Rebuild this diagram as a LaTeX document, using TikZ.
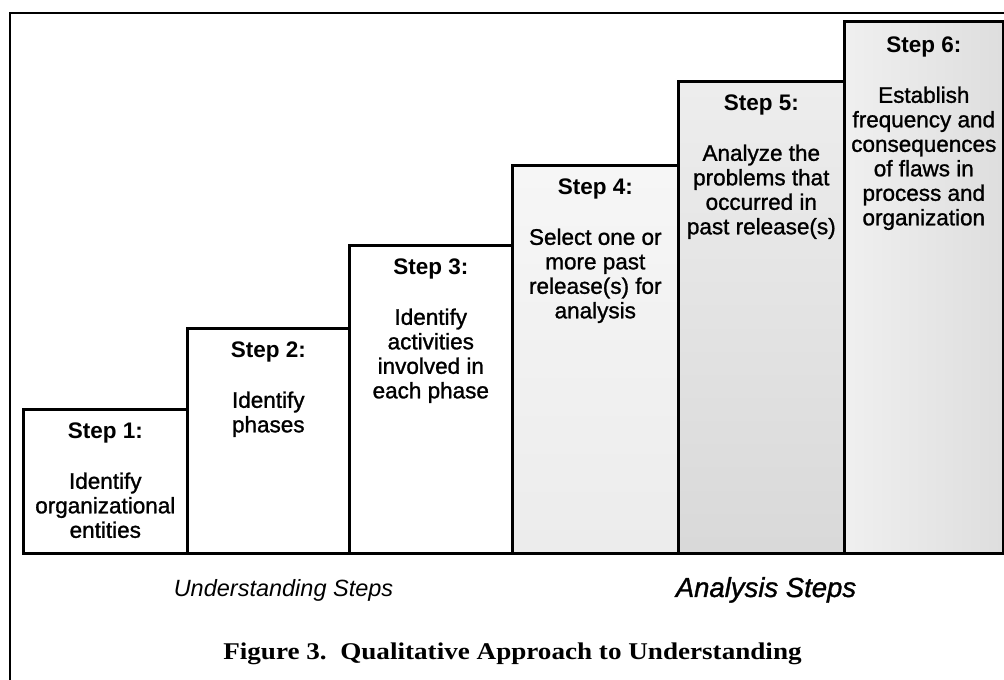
\documentclass[tikz,border=0pt]{standalone}
\usepackage{fontspec}
\newfontfamily\sansfont{Liberation Sans}
\newfontfamily\bodyfont{Liberation Sans}[FakeBold=1.2]
\newfontfamily\capfont{Liberation Serif}[FakeStretch=1.13]
\begin{document}
\begin{tikzpicture}[x=1pt,y=1pt,
  stepbox/.style={draw=black, line width=2.6pt, anchor=south west, inner sep=0pt},
  steptext/.style={anchor=north, align=center, inner sep=0pt,
    font=\bodyfont\fontsize{22.5}{24.5}\selectfont},
  grouplabel/.style={anchor=base, inner sep=0pt},
  captext/.style={anchor=base, inner sep=0pt, font=\capfont\bfseries\fontsize{24}{28}\selectfont}]
\useasboundingbox (0,0) rectangle (1004,680);
\fill[white] (0,0) rectangle (1004,680);
% frame
\draw[line width=2.4pt] (10,-3) -- (10,667) -- (1008,667);
% step boxes
\node[stepbox, fill=white, minimum width=164pt, minimum height=144pt] (s1) at (22,125) {};
\node[stepbox, fill=white, minimum width=162pt, minimum height=225pt] (s2) at (186,125) {};
\node[stepbox, fill=white, minimum width=163pt, minimum height=308pt] (s3) at (348,125) {};
\node[stepbox, top color=gray!7, bottom color=gray!15, minimum width=166pt, minimum height=388pt] (s4) at (511,125) {};
\node[stepbox, top color=gray!14, bottom color=gray!30, minimum width=166pt, minimum height=472pt] (s5) at (677,125) {};
\node[stepbox, left color=gray!12, right color=gray!26, minimum width=159pt, minimum height=532pt] (s6) at (843,125) {};
% texts
\node[steptext] (t1) at ([yshift=-14.5pt]s1.north) {{\sansfont\bfseries Step 1:}\\[25.5pt]Identify\\organizational\\entities};
\node[steptext] (t2) at ([yshift=-14.5pt]s2.north) {{\sansfont\bfseries Step 2:}\\[25.5pt]Identify\\phases};
\node[steptext] (t3) at ([yshift=-14.5pt]s3.north) {{\sansfont\bfseries Step 3:}\\[25.5pt]Identify\\activities\\involved in\\each phase};
\node[steptext] (t4) at ([yshift=-14.5pt]s4.north) {{\sansfont\bfseries Step 4:}\\[25.5pt]Select one or\\more past\\release(s) for\\analysis};
\node[steptext] (t5) at ([yshift=-14.5pt]s5.north) {{\sansfont\bfseries Step 5:}\\[25.5pt]Analyze the\\problems that\\occurred in\\past release(s)};
\node[steptext] (t6) at ([yshift=-16.5pt]s6.north) {{\sansfont\bfseries Step 6:}\\[25.5pt]Establish\\frequency and\\consequences\\of flaws in\\process and\\organization};
% group labels
\node[grouplabel, font=\sansfont\itshape\fontsize{23.5}{28}\selectfont] (ul) at (283.5,83) {Understanding Steps};
\node[grouplabel, font=\bodyfont\itshape\fontsize{27.5}{32}\selectfont] (al) at (766,83) {Analysis Steps};
% caption
\node[captext] (cap) at (512.5,20) {Figure 3.\ \ Qualitative Approach to Understanding};
\end{tikzpicture}
\end{document}
